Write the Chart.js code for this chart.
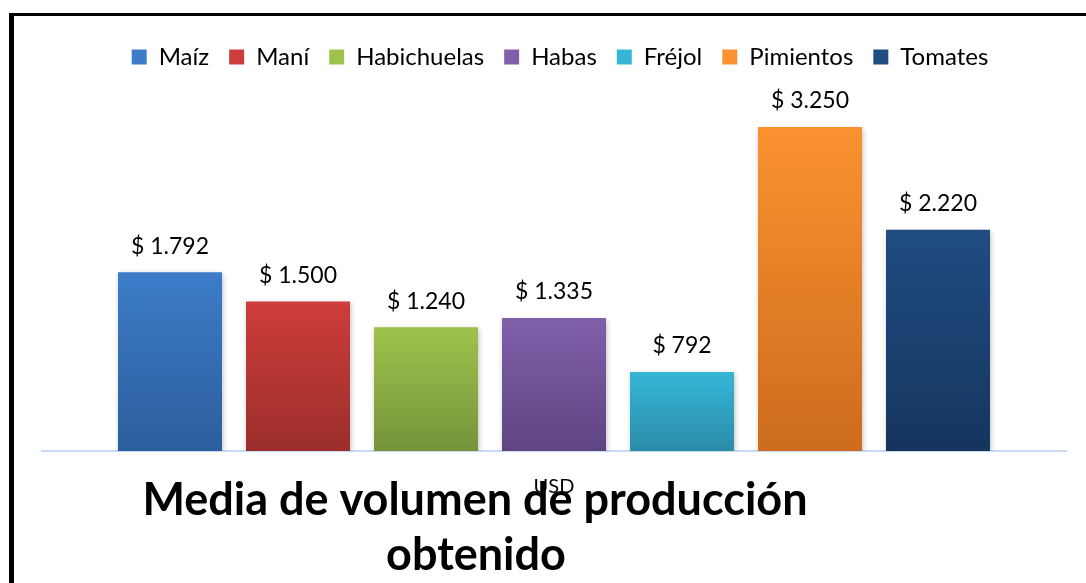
<!DOCTYPE html>
<html>
<head>
<meta charset="utf-8">
<script src="https://cdn.jsdelivr.net/npm/chart.js@4/dist/chart.umd.min.js"></script>
<style>
  html, body { margin: 0; padding: 0; background: #fff; overflow: hidden; }
  #frame { position: absolute; left: 9px; top: 13px; width: 2000px; height: 2000px;
    border-left: 5px solid #000; border-top: 3px solid #000; }
  #wrap { position: absolute; left: 0; top: 0; width: 1086px; height: 583px; }
</style>
</head>
<body>
<div id="frame"></div>
<div id="wrap"><canvas id="myChart"></canvas></div>
<script>
// data
var categorias = ['USD'];
var cultivos = ['Maíz', 'Maní', 'Habichuelas', 'Habas', 'Fréjol', 'Pimientos', 'Tomates'];
var valores = [1792, 1500, 1240, 1335, 792, 3250, 2220];
var titulo = ['Media de volumen de producción', 'obtenido'];

// colores (arriba / abajo del degradado)
var colorArriba = ['#3c7cc9', '#cd3d3b', '#9dc34c', '#8060aa', '#36b6d7', '#fa9230', '#204c82'];
var colorAbajo = ['#2c5e9c', '#9b2e2b', '#76933a', '#5f4482', '#2a8ca8', '#cd6c1e', '#15355e'];

var fuente = 'Lato, "Open Sans", sans-serif';

var formato = function(v) {
  return '$ ' + String(v).replace(/\B(?=(\d{3})+(?!\d))/g, '.');
};

var degradado = function(i) {
  return function(c) {
    var chart = c.chart;
    var y = chart.scales.y;
    if (c.type !== 'data' || !chart.chartArea || !y) return colorArriba[i];
    var g = chart.ctx.createLinearGradient(0, y.getPixelForValue(c.raw), 0, y.getPixelForValue(0));
    g.addColorStop(0, colorArriba[i]);
    g.addColorStop(1, colorAbajo[i]);
    return g;
  };
};

var datasets = cultivos.map(function(nombre, i) {
  return {
    label: nombre,
    data: [valores[i]],
    backgroundColor: degradado(i),
    borderWidth: 0,
    categoryPercentage: 0.875,
    barPercentage: 0.8125
  };
});

// espacio extra debajo de la leyenda, y leyenda un poco a la derecha
var espacioLeyenda = {
  id: 'espacioLeyenda',
  beforeLayout: function(chart) {
    var lg = chart.legend;
    if (lg && !lg._parcheado) {
      var fit = lg.fit;
      lg.fit = function() {
        fit.call(this);
        this.height += 23;
      };
      var draw = lg.draw;
      lg.draw = function() {
        this.ctx.save();
        this.ctx.translate(6, 0);
        draw.call(this);
        this.ctx.restore();
      };
      lg._parcheado = true;
    }
  }
};

// sombra de las barras
var sombra = {
  id: 'sombra',
  beforeDatasetsDraw: function(chart) {
    var ctx = chart.ctx;
    ctx.save();
    ctx.shadowColor = 'rgba(0,0,0,0.25)';
    ctx.shadowBlur = 5;
    ctx.shadowOffsetX = 1;
    ctx.shadowOffsetY = 2;
  },
  afterDatasetsDraw: function(chart) {
    chart.ctx.restore();
  }
};

// etiquetas de valores
var etiquetas = {
  id: 'etiquetas',
  afterDatasetsDraw: function(chart) {
    var ctx = chart.ctx;
    ctx.save();
    ctx.font = '23px ' + fuente;
    ctx.fillStyle = '#000';
    ctx.textAlign = 'center';
    ctx.textBaseline = 'middle';
    chart.data.datasets.forEach(function(ds, i) {
      var bar = chart.getDatasetMeta(i).data[0];
      ctx.fillText(formato(ds.data[0]), bar.x, bar.y - 26);
    });
    ctx.restore();
  }
};

// titulo abajo, encima de la etiqueta del eje
var tituloAbajo = {
  id: 'tituloAbajo',
  afterDraw: function(chart) {
    var ctx = chart.ctx;
    ctx.save();
    ctx.font = 'bold 45px ' + fuente;
    ctx.fillStyle = '#000';
    ctx.textAlign = 'center';
    ctx.textBaseline = 'alphabetic';
    ctx.fillText(titulo[0], 475, 515);
    ctx.fillText(titulo[1], 476, 570);
    ctx.restore();
  }
};

var ctx = document.getElementById('myChart');
var myChart = new Chart(ctx, {
  type: 'bar',
  data: { labels: categorias, datasets: datasets },
  plugins: [espacioLeyenda, sombra, etiquetas, tituloAbajo],
  options: {
    responsive: true,
    maintainAspectRatio: false,
    animation: false,
    layout: { padding: { left: 42, right: 20, top: 25, bottom: 60 } },
    plugins: {
      legend: {
        position: 'top',
        labels: {
          boxWidth: 15,
          boxHeight: 15,
          padding: 20,
          color: '#000',
          font: { family: fuente, size: 24 }
        }
      },
      tooltip: { enabled: false },
      title: { display: false }
    },
    scales: {
      x: {
        grid: { display: false, drawTicks: false },
        border: { display: true, color: '#c6daf3', width: 2 },
        ticks: { color: '#000', padding: 24, font: { family: fuente, size: 20 } }
      },
      y: {
        display: false,
        min: 0,
        max: 3500
      }
    }
  }
});
</script>
</body>
</html>
